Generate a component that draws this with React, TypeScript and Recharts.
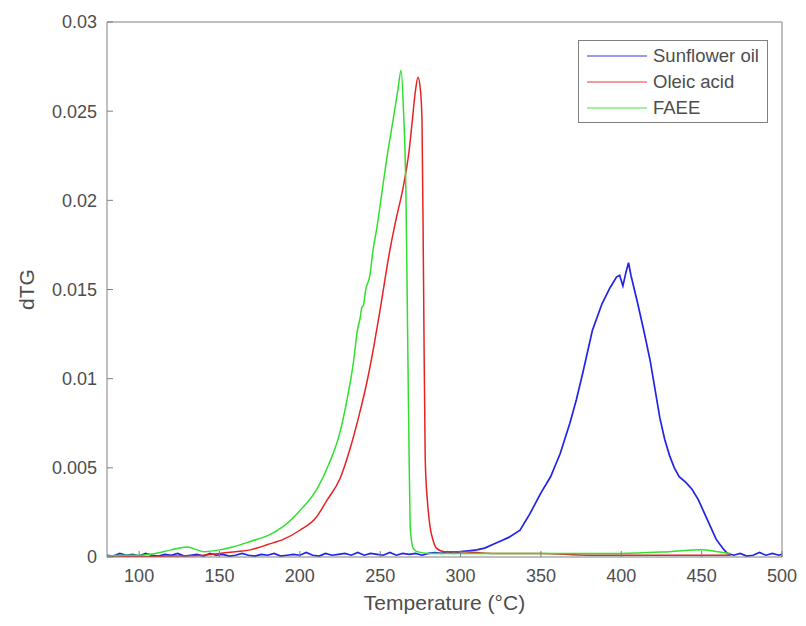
import { LineChart, Line, XAxis, YAxis } from "recharts";

// [temperature °C, dTG] pairs
const SUNFLOWER: [number, number][] = [
  [80, 0.0001], [84, 0.00005], [88, 0.0002], [92, 0.0001], [96, 0.00015],
  [100, 0.00005], [104, 0.0002], [108, 0.0001], [112, 0.00005], [116, 0.00015],
  [120, 0.0001], [124, 0.0002], [128, 0.00005], [132, 0.0001], [136, 0.00015],
  [140, 0.00005], [144, 0.0002], [148, 0.0001], [152, 0.00015], [156, 0.00005],
  [160, 0.0001], [164, 0.0002], [168, 0.0001], [172, 0.00005], [176, 0.00015],
  [180, 0.0001], [184, 0.0002], [188, 0.00005], [192, 0.0001], [196, 0.00015],
  [200, 0.0001], [204, 0.00025], [208, 0.0001], [212, 0.00005], [216, 0.0002],
  [220, 0.0001], [224, 0.00015], [228, 0.0002], [232, 0.0001], [236, 0.00025],
  [240, 0.0001], [244, 0.0002], [248, 0.00015], [252, 0.0001], [256, 0.00025],
  [260, 0.0001], [264, 0.0002], [268, 0.00015], [272, 0.0002], [276, 0.0001],
  [280, 0.0002], [284, 0.00025], [288, 0.0002], [292, 0.0003], [296, 0.0002],
  [300, 0.0003], [305, 0.00035], [310, 0.0004], [315, 0.0005], [320, 0.0007],
  [325, 0.0009], [330, 0.0011], [337, 0.0015], [343, 0.0024], [350, 0.0036],
  [356, 0.0045], [362, 0.0058], [368, 0.0075], [372, 0.0088], [376, 0.0103],
  [382, 0.0127], [388, 0.0142], [393, 0.0151], [397, 0.0157], [399, 0.0158],
  [401, 0.0152], [403, 0.016], [404.5, 0.0165], [406, 0.0158], [410, 0.0143],
  [414, 0.0127], [418, 0.011], [421, 0.0094], [424, 0.0078], [427, 0.0066],
  [430, 0.0057], [433, 0.005], [436, 0.0045], [440, 0.0042], [444, 0.0038],
  [448, 0.0032], [451, 0.0026], [455, 0.0018], [459, 0.001], [463, 0.0005],
  [466, 0.0002], [470, 0.0001], [474, 0.0002], [478, 0.00005], [482, 0.0001],
  [486, 0.00025], [490, 0.0001], [494, 0.0002], [498, 0.0001], [500, 0.00015],
];

const OLEIC: [number, number][] = [
  [80, 0], [100, 0.00002], [120, 0.00005], [140, 0.0001], [150, 0.0002],
  [160, 0.0003], [169, 0.0004], [180, 0.0007], [190, 0.001], [200, 0.0015],
  [210, 0.0022], [217, 0.0032], [225, 0.0044], [231, 0.006], [237, 0.008],
  [241.7, 0.0098], [246, 0.0118], [250, 0.0139], [256, 0.0172], [260, 0.019],
  [264, 0.0206], [268, 0.0228], [270, 0.0245], [272, 0.0262], [273.5, 0.0269],
  [275, 0.0262], [276, 0.0245], [277, 0.015], [278, 0.0055], [279.5, 0.003],
  [281, 0.0017], [283, 0.0009], [285, 0.0005], [290, 0.0003], [300, 0.0003],
  [320, 0.0002], [350, 0.0002], [380, 0.0001], [420, 0.0001], [468, 0.0001],
];

const FAEE: [number, number][] = [
  [80, 0.00005], [90, 0.0001], [100, 0.0001], [110, 0.0002], [120, 0.0004],
  [130, 0.00056], [136, 0.0004], [140, 0.0003], [150, 0.0004], [158, 0.00056],
  [170, 0.0009], [180, 0.0012], [189.5, 0.0017], [200, 0.0026], [210.6, 0.0038],
  [218, 0.0052], [225, 0.007], [229.3, 0.0088], [233, 0.0107], [236, 0.0128],
  [237.5, 0.0134], [238.6, 0.014], [239.5, 0.0141], [241, 0.015], [243.6, 0.0158],
  [245.5, 0.0172], [248, 0.0185], [251, 0.0204], [254, 0.0223], [258, 0.0245],
  [261, 0.0262], [263, 0.0273], [264.5, 0.025], [266, 0.0204], [267, 0.013],
  [268, 0.0055], [268.8, 0.0015], [270.5, 0.0005], [273, 0.0003], [280, 0.0002],
  [300, 0.0002], [350, 0.0002], [400, 0.0002], [430, 0.0003], [450, 0.0004],
  [460, 0.0003], [468, 0.0002],
];

const X_TICKS = [100, 150, 200, 250, 300, 350, 400, 450, 500];
const Y_TICKS = [0, 0.005, 0.01, 0.015, 0.02, 0.025, 0.03];

const SERIES = [
  { name: "Sunflower oil", data: SUNFLOWER, color: "#2323e6", curve: "linear" as const, width: 1.7 },
  { name: "Oleic acid", data: OLEIC, color: "#e62323", curve: "monotone" as const, width: 1.5 },
  { name: "FAEE", data: FAEE, color: "#2fe02f", curve: "monotone" as const, width: 1.5 },
];

const FONT = "'Liberation Sans', Arial, sans-serif";
const TEXT = "#4d4d4d";
const AXIS = "#808080";

const toRows = (pairs: [number, number][]) => pairs.map(([t, v]) => ({ t, v }));

// legend drawn as an overlay so it does not eat into the plot area
function LegendBox() {
  return (
    <div
      style={{
        position: "absolute",
        top: 32,
        left: 570,
        width: 190,
        boxSizing: "border-box",
        border: `1px solid ${AXIS}`,
        background: "#fff",
        padding: "2px 0 1px 8px",
        fontFamily: FONT,
        fontSize: 18.5,
        color: TEXT,
        whiteSpace: "nowrap",
      }}
    >
      {SERIES.map((s) => (
        <div key={s.name} style={{ display: "flex", alignItems: "center", height: 26 }}>
          <svg width={60} height={4} style={{ marginRight: 6, flex: "none" }}>
            <line x1={0} y1={2} x2={60} y2={2} stroke={s.color} strokeWidth={1.5} opacity={0.6} />
          </svg>
          <span>{s.name}</span>
        </div>
      ))}
    </div>
  );
}

export default function App() {
  return (
    <div style={{ fontFamily: FONT, position: "relative", width: 790, height: 610 }}>
      <LineChart width={790} height={610} margin={{ top: 13, right: 15, bottom: 6, left: 0 }}>
        <XAxis
          type="number"
          dataKey="t"
          domain={[80, 500]}
          ticks={X_TICKS}
          allowDataOverflow
          height={55}
          tickSize={-6}
          tickMargin={18}
          stroke={AXIS}
          tick={{ fill: TEXT, fontSize: 18 }}
          label={{
            content: (p: any) => (
              <text
                x={p.viewBox.x + p.viewBox.width / 2}
                y={p.viewBox.y + 53}
                textAnchor="middle"
                fill={TEXT}
                fontSize={21}
              >
                Temperature (°C)
              </text>
            ),
          }}
        />
        <XAxis
          xAxisId="top"
          orientation="top"
          type="number"
          dataKey="t"
          domain={[80, 500]}
          ticks={X_TICKS}
          height={1}
          tickSize={-6}
          tick={false}
          stroke={AXIS}
        />
        <YAxis
          type="number"
          domain={[0, 0.03]}
          ticks={Y_TICKS}
          allowDataOverflow
          width={99}
          tickSize={-6}
          tickMargin={16}
          stroke={AXIS}
          tick={{ fill: TEXT, fontSize: 18 }}
          label={{
            content: (p: any) => {
              const x = p.viewBox.x + 26;
              const y = p.viewBox.y + p.viewBox.height / 2;
              return (
                <text x={x} y={y} transform={`rotate(-90 ${x} ${y})`} textAnchor="middle" fill={TEXT} fontSize={21}>
                  dTG
                </text>
              );
            },
          }}
        />
        <YAxis
          yAxisId="right"
          orientation="right"
          type="number"
          domain={[0, 0.03]}
          ticks={Y_TICKS}
          width={1}
          tickSize={-6}
          tick={false}
          stroke={AXIS}
        />
        {SERIES.map((s) => (
          <Line
            key={s.name}
            data={toRows(s.data)}
            dataKey="v"
            name={s.name}
            type={s.curve}
            stroke={s.color}
            strokeWidth={s.width}
            dot={false}
            isAnimationActive={false}
          />
        ))}
      </LineChart>
      <LegendBox />
    </div>
  );
}
